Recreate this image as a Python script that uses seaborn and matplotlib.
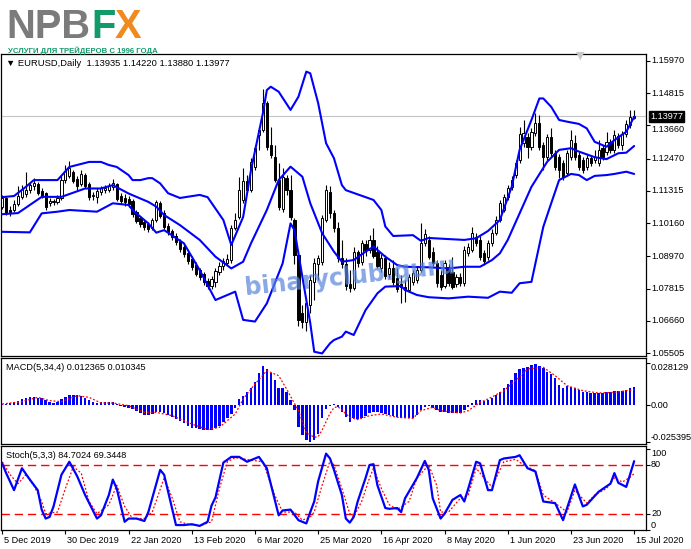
import numpy as np
import pandas as pd
import matplotlib
matplotlib.use("Agg")
import matplotlib.pyplot as plt
import matplotlib.transforms as mtransforms
import seaborn as sns

# ---------------- data ----------------
date_labels = ["5 Dec 2019", "30 Dec 2019", "22 Jan 2020", "13 Feb 2020", "6 Mar 2020",
               "25 Mar 2020", "16 Apr 2020", "8 May 2020", "1 Jun 2020", "23 Jun 2020", "15 Jul 2020"]
date_bars = [0, 16, 32, 48, 64, 80, 96, 112, 128, 144, 160]

price_ticks = [1.15970, 1.14815, 1.13660, 1.12470, 1.11315, 1.10160, 1.08970, 1.07815, 1.06660, 1.05505]

open_ = [1.1074,1.1106,1.1063,1.1063,1.1084,1.1109,1.1120,1.1134,1.1149,1.1156,
1.1131,1.1124,1.1088,1.1091,1.1091,1.1106,1.1170,1.1185,1.1199,1.1174,
1.1156,1.1188,1.1156,1.1113,1.1109,1.1127,1.1134,1.1134,1.1145,1.1156,
1.1113,1.1106,1.1102,1.1095,1.1056,1.1034,1.1020,1.1013,1.0998,1.1027,
1.1088,1.1052,1.1006,1.0988,1.0970,1.0952,1.0931,1.0909,1.0888,1.0866,
1.0848,1.0834,1.0809,1.0791,1.0805,1.0841,1.0863,1.0873,1.0884,1.0998,
1.1038,1.1099,1.1167,1.1134,1.1217,1.1331,1.1349,1.1445,1.1295,1.1253,
1.1170,1.1066,1.1177,1.1134,1.1027,1.0902,1.0695,1.0662,1.0723,1.0805,
1.0870,1.0877,1.1027,1.1127,1.1052,1.0998,1.0891,1.0870,1.0798,1.0784,
1.0913,1.0877,1.0941,1.0920,1.0956,1.0913,1.0855,1.0891,1.0834,1.0855,
1.0820,1.0798,1.0788,1.0777,1.0805,1.0813,1.0848,1.0945,1.0956,1.0913,
1.0873,1.0830,1.0791,1.0859,1.0841,1.0798,1.0823,1.0802,1.0909,1.0920,
1.0966,1.0956,1.0909,1.0895,1.0945,1.0980,1.1027,1.1063,1.1109,1.1145,
1.1188,1.1242,1.1303,1.1324,1.1288,1.1338,1.1374,1.1295,1.1253,1.1324,
1.1267,1.1253,1.1231,1.1195,1.1253,1.1303,1.1260,1.1242,1.1217,1.1249,
1.1242,1.1231,1.1285,1.1270,1.1306,1.1278,1.1328,1.1295,1.1335,1.1367,
1.13935]

high_ = [1.1117,1.1109,1.1077,1.1099,1.1149,1.1152,1.1199,1.1163,1.1177,1.1163,
1.1142,1.1127,1.1106,1.1102,1.1117,1.1185,1.1224,1.1238,1.1206,1.1185,
1.1206,1.1195,1.1163,1.1127,1.1142,1.1149,1.1152,1.1160,1.1174,1.1160,
1.1124,1.1120,1.1113,1.1102,1.1063,1.1041,1.1027,1.1020,1.1034,1.1099,
1.1095,1.1063,1.1016,1.0995,1.0980,1.0959,1.0941,1.0920,1.0898,1.0877,
1.0855,1.0841,1.0820,1.0827,1.0855,1.0877,1.0891,1.0906,1.1009,1.1052,
1.1181,1.1213,1.1188,1.1249,1.1295,1.1360,1.1496,1.1453,1.1360,1.1295,
1.1231,1.1213,1.1188,1.1188,1.1034,1.0920,1.0723,1.0741,1.0830,1.0891,
1.0902,1.1045,1.1152,1.1149,1.1063,1.1020,1.0956,1.0891,1.0848,1.0931,
1.0920,1.0956,1.0956,1.0973,1.0998,1.0934,1.0906,1.0902,1.0877,1.0884,
1.0855,1.0830,1.0813,1.0834,1.0848,1.0863,1.1016,1.0995,1.0970,1.0931,
1.0884,1.0848,1.0884,1.0870,1.0895,1.0834,1.0838,1.0934,1.0945,1.1002,
1.0980,1.0970,1.0920,1.0956,1.0995,1.1041,1.1099,1.1120,1.1152,1.1185,
1.1242,1.1360,1.1385,1.1338,1.1356,1.1410,1.1403,1.1306,1.1335,1.1356,
1.1278,1.1263,1.1242,1.1278,1.1349,1.1331,1.1270,1.1253,1.1260,1.1260,
1.1278,1.1313,1.1295,1.1342,1.1317,1.1349,1.1338,1.1346,1.1385,1.1421,
1.14220]

low_ = [1.1066,1.1045,1.1041,1.1056,1.1077,1.1102,1.1109,1.1124,1.1134,1.1117,
1.1106,1.1063,1.1077,1.1081,1.1084,1.1099,1.1160,1.1177,1.1160,1.1134,
1.1149,1.1142,1.1099,1.1099,1.1088,1.1117,1.1124,1.1127,1.1134,1.1095,
1.1084,1.1077,1.1074,1.1038,1.1016,1.1002,1.0991,1.0984,1.0991,1.1020,
1.1034,1.0995,1.0973,1.0956,1.0938,1.0913,1.0895,1.0870,1.0848,1.0827,
1.0813,1.0795,1.0780,1.0780,1.0788,1.0830,1.0848,1.0866,1.0873,1.0991,
1.1031,1.1088,1.1127,1.1127,1.1206,1.1278,1.1342,1.1278,1.1249,1.1163,
1.1063,1.1056,1.1117,1.1027,1.0870,1.0648,1.0641,1.0630,1.0695,1.0741,
1.0813,1.0866,1.1020,1.1034,1.0984,1.0877,1.0855,1.0777,1.0770,1.0777,
1.0859,1.0866,1.0898,1.0909,1.0891,1.0855,1.0841,1.0816,1.0820,1.0795,
1.0770,1.0730,1.0734,1.0770,1.0795,1.0802,1.0841,1.0934,1.0888,1.0863,
1.0788,1.0777,1.0784,1.0791,1.0780,1.0788,1.0791,1.0791,1.0898,1.0913,
1.0934,1.0884,1.0866,1.0884,1.0934,1.0973,1.1020,1.1056,1.1099,1.1134,
1.1177,1.1231,1.1288,1.1249,1.1278,1.1328,1.1278,1.1206,1.1242,1.1256,
1.1206,1.1177,1.1170,1.1185,1.1242,1.1242,1.1206,1.1195,1.1206,1.1220,
1.1231,1.1220,1.1242,1.1260,1.1267,1.1267,1.1285,1.1278,1.1324,1.1356,
1.13880]

close_ = [1.1106,1.1052,1.1056,1.1084,1.1113,1.1138,1.1134,1.1152,1.1160,1.1124,
1.1113,1.1074,1.1095,1.1095,1.1106,1.1170,1.1202,1.1213,1.1167,1.1149,
1.1192,1.1149,1.1109,1.1117,1.1131,1.1142,1.1142,1.1149,1.1160,1.1102,
1.1095,1.1091,1.1084,1.1048,1.1023,1.1013,1.1002,1.0995,1.1027,1.1091,
1.1041,1.1002,1.0984,1.0966,1.0948,1.0923,1.0906,1.0880,1.0859,1.0834,
1.0823,1.0805,1.0791,1.0816,1.0845,1.0863,1.0880,1.0888,1.0998,1.1027,
1.1134,1.1167,1.1134,1.1235,1.1285,1.1349,1.1445,1.1288,1.1260,1.1170,
1.1074,1.1181,1.1134,1.1038,1.0902,1.0670,1.0662,1.0730,1.0813,1.0873,
1.0891,1.1034,1.1134,1.1052,1.0998,1.0891,1.0870,1.0791,1.0784,1.0913,
1.0873,1.0945,1.0920,1.0956,1.0898,1.0863,1.0891,1.0827,1.0855,1.0805,
1.0780,1.0788,1.0777,1.0823,1.0838,1.0848,1.0945,1.0977,1.0895,1.0873,
1.0802,1.0788,1.0873,1.0802,1.0788,1.0823,1.0802,1.0920,1.0931,1.0980,
1.0945,1.0895,1.0880,1.0945,1.0980,1.1027,1.1088,1.1109,1.1142,1.1170,
1.1231,1.1335,1.1338,1.1288,1.1342,1.1374,1.1288,1.1253,1.1324,1.1267,
1.1217,1.1206,1.1181,1.1267,1.1313,1.1253,1.1217,1.1206,1.1249,1.1231,
1.1253,1.1278,1.1253,1.1306,1.1278,1.1331,1.1295,1.1335,1.1371,1.1396,
1.13977]

# Bollinger bands, read at sample bars
upper_bar = [0,3,6,8,14,17,22,25,27,29,32,33,35,37,38,40,42,45,50,52,56,58,61,63,66,67,68,70,73,75,77,78,80,82,84,86,87,92,94,96,97,99,104,106,108,113,117,120,123,126,129,131,134,136,137,139,141,143,146,148,150,153,155,158,160]
upper_val = [1.1109,1.1113,1.1146,1.1170,1.1170,1.1217,1.1235,1.1235,1.1224,1.1217,1.1188,1.1170,1.1170,1.1177,1.1177,1.1158,1.1123,1.1106,1.1117,1.1109,1.1027,1.0938,1.1038,1.1206,1.1409,1.1492,1.1504,1.1486,1.1421,1.1468,1.1558,1.1552,1.1445,1.1302,1.1248,1.1152,1.1134,1.1109,1.1099,1.1063,1.1004,1.0970,1.0973,1.0953,1.0963,1.0959,1.0956,1.0962,1.0988,1.1027,1.1146,1.1278,1.1385,1.1462,1.1462,1.1432,1.1385,1.1379,1.1371,1.1355,1.1307,1.1289,1.1313,1.1343,1.1396]

middle_bar = [0,4,7,10,15,21,25,28,32,37,39,41,45,50,54,58,61,63,67,70,73,76,78,81,84,86,89,92,94,97,100,102,108,113,117,121,124,126,128,131,134,138,141,144,146,150,153,156,158,160]
middle_val = [1.1048,1.1052,1.1081,1.1110,1.1110,1.1140,1.1140,1.1152,1.1122,1.1092,1.1075,1.1045,1.1009,1.0956,1.0896,1.0854,1.0878,1.0944,1.1063,1.1170,1.1218,1.1182,1.1087,1.0980,1.0914,1.0878,1.0884,1.0914,1.0932,1.0896,1.0866,1.0860,1.0858,1.0854,1.0860,1.0860,1.0884,1.0908,1.0956,1.1051,1.1146,1.1236,1.1278,1.1284,1.1272,1.1252,1.1245,1.1266,1.1268,1.1292]

lower_bar = [0,7,10,14,17,24,28,32,33,37,39,41,46,50,54,56,59,61,64,67,71,73,74,76,78,79,81,83,84,86,87,89,92,95,97,101,102,105,108,113,118,123,126,129,131,134,135,137,139,141,144,146,148,150,153,155,158,160]
lower_val = [1.0985,1.0983,1.1051,1.1057,1.1063,1.1057,1.1087,1.1081,1.1063,1.1015,1.0982,1.0991,1.0944,1.0848,1.0741,1.0753,1.0771,1.0670,1.0664,1.0729,1.0872,1.1015,1.0991,1.0824,1.0658,1.0556,1.0550,1.0586,1.0598,1.0610,1.0628,1.0616,1.0705,1.0765,1.0789,1.0791,1.0777,1.0759,1.0751,1.0747,1.0753,1.0749,1.0771,1.0767,1.0801,1.0806,1.0872,1.1003,1.1087,1.1170,1.1192,1.1188,1.1170,1.1185,1.1188,1.1192,1.1200,1.1192]

# MACD(5,34,4) histogram per bar
macd_hist = [0.00090,0.00090,0.00135,0.00181,0.00271,0.00406,0.00497,0.00564,0.00564,0.00497,
0.00451,0.00316,0.00203,0.00158,0.00226,0.00406,0.00564,0.00677,0.00677,0.00677,
0.00632,0.00497,0.00316,0.00181,0.00135,0.00181,0.00181,0.00181,0.00181,0.00090,
-0.00068,-0.00135,-0.00181,-0.00271,-0.00406,-0.00564,-0.00677,-0.00677,-0.00632,-0.00497,
-0.00451,-0.00564,-0.00677,-0.00813,-0.00948,-0.01083,-0.01241,-0.01399,-0.01535,-0.01580,
-0.01625,-0.01693,-0.01715,-0.01693,-0.01580,-0.01399,-0.01174,-0.00903,-0.00632,-0.00181,
0.00406,0.00632,0.00858,0.01174,0.01580,0.02144,0.02663,0.02438,0.02144,0.01693,
0.01129,0.01129,0.00903,0.00339,-0.00339,-0.01467,-0.02031,-0.02370,-0.02528,-0.02370,
-0.01964,-0.00903,-0.00271,-0.00068,0.00045,-0.00113,-0.00451,-0.00790,-0.01129,-0.00903,
-0.00948,-0.00858,-0.00722,-0.00564,-0.00451,-0.00451,-0.00564,-0.00632,-0.00677,-0.00722,
-0.00790,-0.00903,-0.00858,-0.00903,-0.00858,-0.00677,-0.00339,-0.00113,-0.00068,-0.00181,
-0.00339,-0.00497,-0.00497,-0.00564,-0.00564,-0.00564,-0.00564,-0.00339,-0.00113,0.00113,
0.00339,0.00339,0.00271,0.00339,0.00497,0.00677,0.00903,0.01174,0.01399,0.01693,
0.02144,0.02438,0.02528,0.02596,0.02708,0.02776,0.02663,0.02483,0.02257,0.02076,
0.01851,0.01354,0.01174,0.01309,0.01241,0.01129,0.00993,0.00903,0.00858,0.00835,
0.00813,0.00790,0.00813,0.00858,0.00903,0.00948,0.00948,0.00971,0.01038,0.01174,
0.012365]

signal_bar = [0,5,9,12,15,19,22,25,28,32,36,39,43,48,52,55,59,61,64,67,70,72,75,77,79,80,81,82,83,84,85,88,90,93,96,100,104,106,109,111,116,118,121,123,127,130,133,137,140,143,147,151,155,158,160]
signal_val = [0.00068,0.00226,0.00519,0.00293,0.00226,0.00632,0.00519,0.00135,0.00135,-0.00045,
-0.00497,-0.00497,-0.00722,-0.01286,-0.01670,-0.01512,-0.00609,0.00406,0.01422,0.02325,
0.01986,0.01083,-0.00384,-0.01851,-0.02189,-0.02144,-0.01693,-0.01129,-0.00564,-0.00181,
-0.00113,-0.00835,-0.00993,-0.00722,-0.00609,-0.00835,-0.00903,-0.00384,-0.00158,-0.00384,
-0.00542,-0.00384,0.00181,0.00406,0.00971,0.01648,0.02438,0.02550,0.01986,0.01309,
0.00971,0.00813,0.00858,0.00971,0.010345]

# Stochastic(5,3,3)
k_bar = [0,1,3,5,7,9,10,11,12,13,15,17,19,21,24,25,27,28,29,31,32,34,36,37,40,41,44,46,48,50,52,53,54,56,58,60,62,64,65,67,70,71,73,75,77,78,79,80,82,83,84,86,87,88,89,90,92,93,94,95,97,98,100,101,102,105,107,108,109,111,112,114,116,117,118,120,121,123,124,126,127,130,131,133,135,137,140,142,145,147,148,151,154,155,156,158,160]
k_val = [82,70,49,76,62,49,25,14,16,29,68,84,66,43,14,18,43,62,51,10,14,14,11,22,74,68,6,6,7,5,10,30,40,83,90,90,84,88,90,76,18,24,25,12,8,22,35,60,94,88,74,43,14,9,16,35,64,80,81,55,27,26,27,22,39,64,85,74,39,14,20,37,43,35,51,84,82,49,49,86,88,90,92,76,72,35,33,12,56,29,31,47,57,70,58,53,84.7024]
d_bar = [0,2,4,6,8,10,11,14,16,18,20,22,24,27,29,31,33,36,38,41,43,45,47,50,53,55,57,59,63,66,69,71,74,76,78,79,81,83,84,86,88,89,91,93,94,96,98,100,103,105,108,110,111,113,116,118,120,122,124,127,130,132,135,137,140,143,145,148,150,153,155,157,159,160]
d_val = [84,68,57,68,55,35,20,22,51,78,70,35,20,31,55,29,14,14,22,64,40,10,7,5,10,51,84,89,86,84,43,22,22,12,16,22,55,85,80,51,20,16,35,64,76,51,31,25,35,64,80,55,22,22,39,43,76,64,53,84,87,80,73,43,33,22,49,33,43,51,64,59,65,69.3448]
stoch_levels = [80, 20]

assert len(open_) == len(high_) == len(low_) == len(close_) == len(macd_hist) == 161
assert len(upper_bar) == len(upper_val) and len(middle_bar) == len(middle_val) and len(lower_bar) == len(lower_val)
assert len(signal_bar) == len(signal_val) and len(k_bar) == len(k_val) and len(d_bar) == len(d_val)

# ---------------- figure ----------------
sns.set_theme(style="white")
plt.rcParams["font.family"] = ["Liberation Sans", "DejaVu Sans"]

W, H = 691, 549
fig = plt.figure(figsize=(W / 100, H / 100), dpi=100)
fig.patch.set_facecolor("white")


def rect(x0, y0, x1, y1):
    return [x0 / W, 1 - y1 / H, (x1 - x0) / W, (y1 - y0) / H]


ax1 = fig.add_axes(rect(0.5, 54, 646, 356))
ax2 = fig.add_axes(rect(0.5, 358, 646, 444), sharex=ax1)
ax3 = fig.add_axes(rect(0.5, 446, 646, 530), sharex=ax1)

BLUE = "#0000ff"
RED = "#ff0000"
FS = 6.6

ohlc = pd.DataFrame({"o": open_, "h": high_, "l": low_, "c": close_})
ohlc["bar"] = np.arange(len(ohlc))
up = ohlc["c"] >= ohlc["o"]

# current price line
ax1.axhline(close_[-1], color="#c4c4c4", lw=0.8, zorder=0)

# candles
ax1.vlines(ohlc["bar"], ohlc["l"], ohlc["h"], color="black", lw=0.8, zorder=2)
ax1.bar(ohlc["bar"], (ohlc["c"] - ohlc["o"]).abs(), bottom=ohlc[["o", "c"]].min(axis=1),
        width=0.55, color=np.where(up, "white", "black"), edgecolor="black", linewidth=0.7, zorder=3)

# Bollinger bands
for bx, bv in [(upper_bar, upper_val), (middle_bar, middle_val), (lower_bar, lower_val)]:
    sns.lineplot(x=bx, y=bv, ax=ax1, color=BLUE, lw=1.5, zorder=4)

# MACD
ax2.bar(np.arange(len(macd_hist)), macd_hist, width=0.62, color=BLUE, linewidth=0, zorder=2)
sns.lineplot(x=signal_bar, y=signal_val, ax=ax2, color=RED, lw=0.9, linestyle=(0, (1.5, 1.5)), zorder=3)

# Stochastic
for lv in stoch_levels:
    ax3.axhline(lv, color=RED, lw=1.0, linestyle=(0, (6, 3.5)), zorder=1)
sns.lineplot(x=d_bar, y=d_val, ax=ax3, color=RED, lw=0.9, linestyle=(0, (1.5, 1.5)), zorder=2)
sns.lineplot(x=k_bar, y=k_val, ax=ax3, color=BLUE, lw=1.6, zorder=3)

# limits
ax1.set_xlim(-0.43, 163.0)
ax1.set_ylim(1.05408, 1.16210)
ax2.set_ylim(-0.02642, 0.03184)
ax3.set_ylim(-0.1, 103.4)

for ax in (ax1, ax2, ax3):
    ax.set_xlabel("")
    ax.set_ylabel("")
    ax.set_facecolor("white")
    for s in ax.spines.values():
        s.set_color("black")
        s.set_linewidth(0.9)
    ax.yaxis.tick_right()
    ax.tick_params(axis="y", which="both", right=True, left=False, direction="out",
                   length=3, width=0.8, colors="black", labelright=False, labelleft=False)
    ax.tick_params(axis="x", bottom=False, labelbottom=False)


# right-hand labels (MT4 style)
def right_labels(ax, values, texts, vas):
    tr = mtransforms.blended_transform_factory(ax.transAxes, ax.transData)
    ax.set_yticks(values)
    for v, t, va in zip(values, texts, vas):
        ax.text(1 + 5 / 645.5, v, t, transform=tr, ha="left", va=va, fontsize=FS,
                color="black", clip_on=False)


price_vas = ["center"] * len(price_ticks)
price_vas[2] = "top"   # 1.13660 sits just under the current-price box
right_labels(ax1, price_ticks, [f"{v:.5f}" for v in price_ticks], price_vas)
tr1 = mtransforms.blended_transform_factory(ax1.transAxes, ax1.transData)
ax1.text(1 + 4 / 645.5, close_[-1], f"{close_[-1]:.5f}", transform=tr1, ha="left", va="center",
         fontsize=FS, color="white", zorder=10, clip_on=False,
         bbox=dict(boxstyle="square,pad=0.08", facecolor="black", edgecolor="black"))

right_labels(ax2, [0.028129, 0.0, -0.025395], ["0.028129", "0.00", "-0.025395"],
             ["top", "center", "bottom"])
right_labels(ax3, [100, 80, 20, 0], ["100", "80", "20", "0"], ["top", "center", "center", "bottom"])

# date axis
ax3.tick_params(axis="x", bottom=True, labelbottom=True, direction="out", length=3, width=0.8,
                colors="black", labelsize=FS, pad=1.5)
ax3.set_xticks(date_bars)
ax3.set_xticklabels(date_labels, ha="left")
off = mtransforms.ScaledTranslation(2 / 100, 0, fig.dpi_scale_trans)
for lab in ax3.get_xticklabels():
    lab.set_transform(lab.get_transform() + off)

# panel titles
t_main = ax1.text(5 / 645.5, 1 - 10 / 302, "\u25bc EURUSD,Daily  1.13935 1.14220 1.13880 1.13977",
                  transform=ax1.transAxes, ha="left", va="center", fontsize=7, color="black")
ax2.text(5 / 645.5, 1 - 9 / 86, "MACD(5,34,4) 0.012365 0.010345", transform=ax2.transAxes,
         ha="left", va="center", fontsize=FS, color="black")
ax3.text(5 / 645.5, 1 - 9 / 84, "Stoch(5,3,3) 84.7024 69.3448", transform=ax3.transAxes,
         ha="left", va="center", fontsize=FS, color="black")

# watermark
wm = fig.text(350 / W, 1 - 277 / H, "binaryclub.guru", ha="center", va="center", rotation=6,
              fontsize=17, fontweight="bold", color="#5a86dc", alpha=0.72,
              family=["DejaVu Sans"], zorder=20)

# chart-shift marker
fig.text(580 / W, 1 - 56 / H, "\u25bc", ha="center", va="center", fontsize=8, color="#c8c8c8",
         family=["DejaVu Sans"])

# logo
LOGO_BASE = 38.5
logo_kw = dict(fontsize=31, fontweight="bold", va="baseline", ha="left",
               family=["Liberation Sans", "DejaVu Sans"])
t_npb = fig.text(6 / W, 1 - LOGO_BASE / H, "NPB", color="#7b7b7b", **logo_kw)
t_sub = fig.text(8 / W, 1 - 53.2 / H, "УСЛУГИ ДЛЯ ТРЕЙДЕРОВ С 1996 ГОДА", color="#129a6b",
                 fontsize=6, fontweight="bold", va="baseline", ha="left",
                 family=["Liberation Sans Narrow", "Liberation Sans", "DejaVu Sans"])

fig.canvas.draw()
r = fig.canvas.get_renderer()


def fit(t, target):
    w = t.get_window_extent(r).width
    t.set_fontsize(t.get_fontsize() * target / w)


fit(t_npb, 84)
fit(t_sub, 151)
fit(t_main, 223)
fit(wm, 213)
fig.canvas.draw()
lfs = t_npb.get_fontsize()
bb = t_npb.get_window_extent(r)
t_f = fig.text(bb.x1 / W + 1 / W, 1 - LOGO_BASE / H, "F", color="#129a6b", **{**logo_kw, "fontsize": lfs})
fig.canvas.draw()
bb = t_f.get_window_extent(r)
fig.text(bb.x1 / W - 1 / W, 1 - LOGO_BASE / H, "X", color="#f08a1e", **{**logo_kw, "fontsize": lfs})

fig.savefig("out.png", dpi=100, facecolor="white")
